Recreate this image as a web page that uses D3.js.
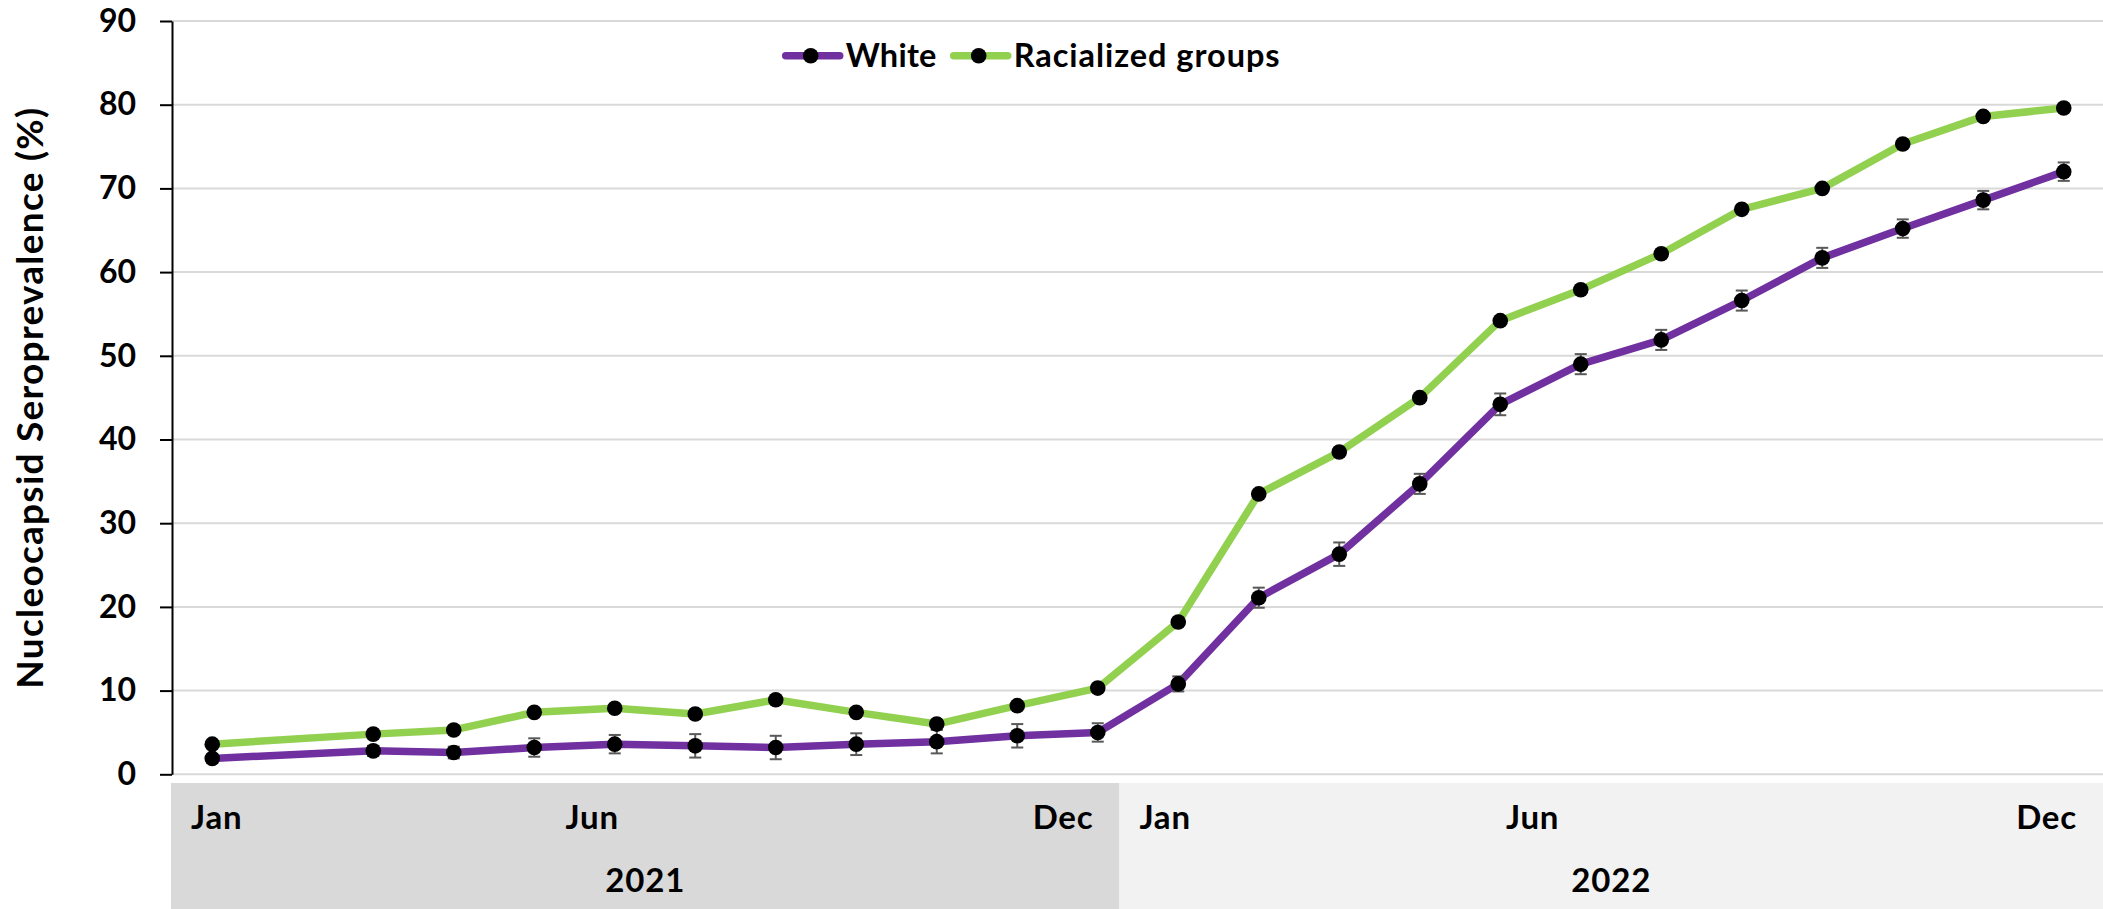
<!DOCTYPE html>
<html>
<head>
<meta charset="utf-8">
<script src="https://cdn.jsdelivr.net/npm/d3@7"></script>
<style>
  html, body { margin: 0; padding: 0; background: #ffffff; }
  svg { display: block; }
  text { font-family: "Lato", "Liberation Sans", sans-serif; font-weight: 700; fill: #000; }
</style>
</head>
<body>
<svg id="chart" width="2103" height="909"></svg>
<script>
// ---------------- data ----------------
const months = [
  "Jan 2021","Feb 2021","Mar 2021","Apr 2021","May 2021","Jun 2021",
  "Jul 2021","Aug 2021","Sep 2021","Oct 2021","Nov 2021","Dec 2021",
  "Jan 2022","Feb 2022","Mar 2022","Apr 2022","May 2022","Jun 2022",
  "Jul 2022","Aug 2022","Sep 2022","Oct 2022","Nov 2022","Dec 2022"
];
const seriesNames = ["White", "Racialized groups"];
const white = [1.9, null, 2.8, 2.6, 3.2, 3.6, 3.4, 3.2, 3.6, 3.9, 4.6, 5.0,
               10.8, 21.1, 26.3, 34.7, 44.2, 49.0, 51.9, 56.6, 61.7, 65.2, 68.6, 72.0];
const whiteErr = [0.5, null, 0.6, 0.7, 1.1, 1.1, 1.4, 1.4, 1.3, 1.4, 1.4, 1.1,
                  0.9, 1.2, 1.4, 1.2, 1.3, 1.2, 1.2, 1.2, 1.2, 1.1, 1.1, 1.1];
const racialized = [3.6, null, 4.8, 5.3, 7.4, 7.9, 7.2, 8.9, 7.4, 6.0, 8.2, 10.3,
                    18.2, 33.5, 38.5, 45.0, 54.2, 57.9, 62.2, 67.5, 70.0, 75.3, 78.6, 79.6];
const yTicks = [0, 10, 20, 30, 40, 50, 60, 70, 80, 90];
const years = ["2021", "2022"];
const monthTickLabels = ["Jan", "Jun", "Dec"];
const yTitle = "Nucleocapsid Seroprevalence (%)";

// ---------------- layout / style ----------------
const W = 2103, H = 909;
const plot = { left: 172, right: 2104, top: 21, bottom: 774.3 };
const colors = { "White": "#7030a0", "Racialized groups": "#92d050" };
const bandFill = ["#d9d9d9", "#f2f2f2"];
const yearSplitIndex = 11.27;      // boundary between the two year cells (in month units)
const junFrac = [0.444, 0.42];     // position of "Jun" inside each year cell
const fontTick = 32, fontLabel = 33, fontLegend = 32.5, fontTitle = 37;

const svg = d3.select("#chart");
svg.append("rect").attr("width", W).attr("height", H).attr("fill", "#fff");

const x = d3.scaleBand().domain(months).range([plot.left, plot.right]).padding(0);
const cx = m => x(m) + x.bandwidth() / 2;
const y = d3.scaleLinear().domain([0, 90]).range([plot.bottom, plot.top]);
const xi = d3.scaleLinear().domain([0, months.length - 1]).range([cx(months[0]), cx(months[months.length - 1])]);

// fit a text element to a target length via letter-spacing
function fitSpacing(sel, target) {
  const n = sel.text().length;
  const w = sel.node().getComputedTextLength();
  if (n > 1) sel.attr("letter-spacing", ((target - w) / n).toFixed(2));
  return sel;
}

// gridlines
svg.append("g").selectAll("line").data(yTicks).join("line")
  .attr("x1", plot.left).attr("x2", W)
  .attr("y1", d => y(d)).attr("y2", d => y(d))
  .attr("stroke", "#d9d9d9").attr("stroke-width", 2);

// year cells below the axis
const cellTop = 783;
const cellEdges = [plot.left - 1, xi(yearSplitIndex), W];
years.forEach((yr, i) => {
  const x0 = cellEdges[i], x1 = cellEdges[i + 1];
  svg.append("rect").attr("x", x0).attr("y", cellTop).attr("width", x1 - x0).attr("height", H - cellTop)
    .attr("fill", bandFill[i]);
  svg.append("text").attr("x", (x0 + x1) / 2).attr("y", 892).attr("text-anchor", "middle")
    .attr("font-size", fontLabel).attr("letter-spacing", 0.8).text(yr);
  svg.append("text").attr("x", x0 + 20).attr("y", 829).attr("text-anchor", "start")
    .attr("font-size", fontLabel).attr("letter-spacing", 0.8).text(monthTickLabels[0]);
  svg.append("text").attr("x", x0 + (x1 - x0) * junFrac[i]).attr("y", 829).attr("text-anchor", "middle")
    .attr("font-size", fontLabel).attr("letter-spacing", 0.8).text(monthTickLabels[1]);
  svg.append("text").attr("x", x1 - 26).attr("y", 829).attr("text-anchor", "end")
    .attr("font-size", fontLabel).attr("letter-spacing", 0.8).text(monthTickLabels[2]);
});

// y axis
const yAxis = svg.append("g").attr("transform", `translate(${plot.left},0)`)
  .call(d3.axisLeft(y).tickValues(yTicks).tickSize(12).tickSizeOuter(0).tickPadding(24));
yAxis.select(".domain").attr("stroke", "#000").attr("stroke-width", 2);
yAxis.selectAll(".tick line").attr("stroke", "#000").attr("stroke-width", 2);
yAxis.selectAll(".tick text").attr("font-size", fontTick)
  .style("font-family", '"Lato", "Liberation Sans", sans-serif').style("font-weight", 700).attr("fill", "#000");

// y title
const title = svg.append("text").attr("transform", `translate(43,${(plot.top + plot.bottom) / 2}) rotate(-90)`)
  .attr("text-anchor", "middle").attr("font-size", fontTitle).text(yTitle);
fitSpacing(title, 582);

// series
const series = [
  { name: seriesNames[0], values: white, err: whiteErr },
  { name: seriesNames[1], values: racialized, err: null }
];
const line = d3.line().x(d => cx(d.m)).y(d => y(d.v));

series.forEach(s => {
  const pts = months.map((m, i) => ({ m, v: s.values[i], e: s.err ? s.err[i] : null }))
    .filter(d => d.v != null);
  const g = svg.append("g");
  g.append("path").datum(pts).attr("d", line).attr("fill", "none")
    .attr("stroke", colors[s.name]).attr("stroke-width", 7.5)
    .attr("stroke-linejoin", "round").attr("stroke-linecap", "round");
  const eb = pts.filter(d => d.e != null);
  g.selectAll("line.err").data(eb).join("line").attr("class", "err")
    .attr("x1", d => cx(d.m)).attr("x2", d => cx(d.m))
    .attr("y1", d => y(d.v - d.e)).attr("y2", d => y(d.v + d.e))
    .attr("stroke", "#595959").attr("stroke-width", 2);
  [1, -1].forEach(sg => {
    g.selectAll(`line.cap${sg}`).data(eb).join("line").attr("class", `cap${sg}`)
      .attr("x1", d => cx(d.m) - 6).attr("x2", d => cx(d.m) + 6)
      .attr("y1", d => y(d.v + sg * d.e)).attr("y2", d => y(d.v + sg * d.e))
      .attr("stroke", "#595959").attr("stroke-width", 2);
  });
  g.selectAll("circle").data(pts).join("circle")
    .attr("cx", d => cx(d.m)).attr("cy", d => y(d.v)).attr("r", 7.8).attr("fill", "#000");
});

// legend
const legend = svg.append("g");
const legendTextWidths = [91, 267];
let lx = 782.7;
const ly = 55.7;
seriesNames.forEach((name, i) => {
  legend.append("line").attr("x1", lx + 3).attr("x2", lx + 57).attr("y1", ly).attr("y2", ly)
    .attr("stroke", colors[name]).attr("stroke-width", 7.5).attr("stroke-linecap", "round");
  legend.append("circle").attr("cx", lx + 28).attr("cy", ly).attr("r", 7.8).attr("fill", "#000");
  const t = legend.append("text").attr("x", lx + 63).attr("y", ly + 11.5).attr("font-size", fontLegend).text(name);
  fitSpacing(t, legendTextWidths[i]);
  lx = lx + 63 + legendTextWidths[i] + 14;
});
</script>
</body>
</html>
